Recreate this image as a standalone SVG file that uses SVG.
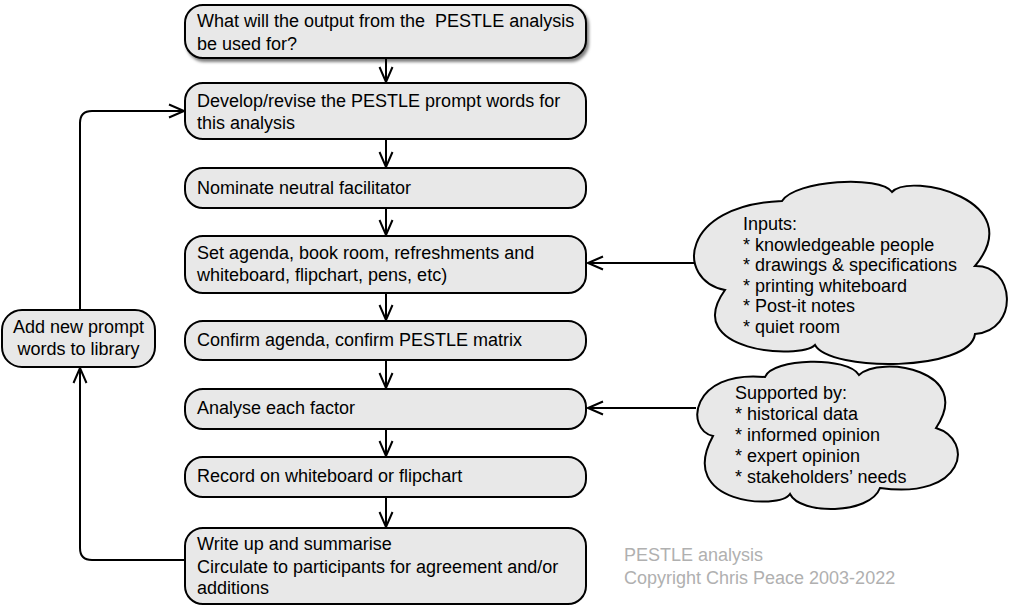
<svg xmlns="http://www.w3.org/2000/svg" width="1018" height="606" viewBox="0 0 1018 606">
<style>
  .box { fill: #e8e8e8; stroke: #000; stroke-width: 2; }
  .t { font-family: "Liberation Sans", Arial, sans-serif; font-size: 18px; fill: #000; white-space: pre; }
  .tc { text-anchor: middle; }
  .cr { font-family: "Liberation Sans", Arial, sans-serif; font-size: 18px; fill: #b0b0b0; }
  .con { fill: none; stroke: #000; stroke-width: 2; marker-end: url(#ah); }
</style>
<defs>
  <filter id="sh" x="-5%" y="-20%" width="112%" height="150%">
    <feDropShadow dx="2" dy="3" stdDeviation="1.6" flood-color="#000" flood-opacity="0.5"/>
  </filter>
  <marker id="ah" viewBox="-20 -10 22 20" refX="0" refY="0" markerWidth="22" markerHeight="20" markerUnits="userSpaceOnUse" orient="auto">
    <path d="M-15,-6.5 L0,0 L-15,6.5" fill="none" stroke="#000" stroke-width="2"/>
  </marker>
</defs>
<rect width="1018" height="606" fill="#fff"/>

<g id="connectors">
  <path class="con" d="M386,58 L386,82"/>
  <path class="con" d="M386,139 L386,167"/>
  <path class="con" d="M386,208 L386,235"/>
  <path class="con" d="M386,293 L386,320"/>
  <path class="con" d="M386,360 L386,388"/>
  <path class="con" d="M386,429 L386,456"/>
  <path class="con" d="M386,497 L386,527"/>
  <path class="con" d="M696,263 L588,263"/>
  <path class="con" d="M696,408 L588,408"/>
  <path class="con" d="M185,560 L92,560 Q80,560 80,548 L80,368"/>
  <path class="con" d="M80,310 L80,123 Q80,111 92,111 L184,111"/>
</g>

<g id="n1">
  <rect class="box" x="185" y="5" width="401" height="53" rx="18" filter="url(#sh)"/>
  <text class="t" x="197" y="27">What will the output from the  PESTLE analysis</text>
  <text class="t" x="197" y="49.5">be used for?</text>
</g>
<g id="n2">
  <rect class="box" x="185" y="83" width="401" height="56" rx="18"/>
  <text class="t" x="197" y="107">Develop/revise the PESTLE prompt words for</text>
  <text class="t" x="197" y="129">this analysis</text>
</g>
<g id="n3">
  <rect class="box" x="185" y="168" width="401" height="40" rx="18"/>
  <text class="t" x="197" y="193.5">Nominate neutral facilitator</text>
</g>
<g id="n4">
  <rect class="box" x="185" y="236" width="401" height="57" rx="18"/>
  <text class="t" x="197" y="259">Set agenda, book room, refreshments and</text>
  <text class="t" x="197" y="281">whiteboard, flipchart, pens, etc)</text>
</g>
<g id="n5">
  <rect class="box" x="185" y="321" width="401" height="39" rx="18"/>
  <text class="t" x="197" y="345.5">Confirm agenda, confirm PESTLE matrix</text>
</g>
<g id="n6">
  <rect class="box" x="185" y="389" width="401" height="40" rx="18"/>
  <text class="t" x="197" y="413.5">Analyse each factor</text>
</g>
<g id="n7">
  <rect class="box" x="185" y="457" width="401" height="40" rx="18"/>
  <text class="t" x="197" y="482">Record on whiteboard or flipchart</text>
</g>
<g id="n8">
  <rect class="box" x="185" y="528" width="401" height="76" rx="18"/>
  <text class="t" x="197" y="550">Write up and summarise</text>
  <text class="t" x="197" y="572.5">Circulate to participants for agreement and/or</text>
  <text class="t" x="197" y="593.5">additions</text>
</g>
<g id="n9">
  <rect class="box" x="2" y="310" width="153" height="57" rx="20"/>
  <text class="t tc" x="78.5" y="333">Add new prompt</text>
  <text class="t tc" x="78.5" y="355">words to library</text>
</g>

<g id="c1">
  <path class="box" d="M725,290 C675,280 680,205 782,201 C795,180 880,175 892,192 C910,172 1030,200 975,266 C1015,265 1020,330 975,334 C970,372 830,372 815,345 C800,360 680,352 725,290 Z"/>
  <text class="t" x="743" y="230">Inputs:</text>
  <text class="t" x="743" y="250.5">* knowledgeable people</text>
  <text class="t" x="743" y="271">* drawings &amp; specifications</text>
  <text class="t" x="743" y="291.5">* printing whiteboard</text>
  <text class="t" x="743" y="312">* Post-it notes</text>
  <text class="t" x="743" y="332.5">* quiet room</text>
</g>
<g id="c2">
  <path class="box" d="M713,436 C685,430 690,370 765,377 C772,358 848,356 859,375 C880,355 975,370 936,428 C975,440 965,500 880,488 C870,515 800,515 790,494 C780,510 675,505 713,436 Z"/>
  <text class="t" x="735" y="399">Supported by:</text>
  <text class="t" x="735" y="420">* historical data</text>
  <text class="t" x="735" y="441">* informed opinion</text>
  <text class="t" x="735" y="462">* expert opinion</text>
  <text class="t" x="735" y="483">* stakeholders’ needs</text>
</g>

<g id="copyright">
  <text class="cr" x="624" y="561">PESTLE analysis</text>
  <text class="cr" x="624" y="584">Copyright Chris Peace 2003-2022</text>
</g>
</svg>
